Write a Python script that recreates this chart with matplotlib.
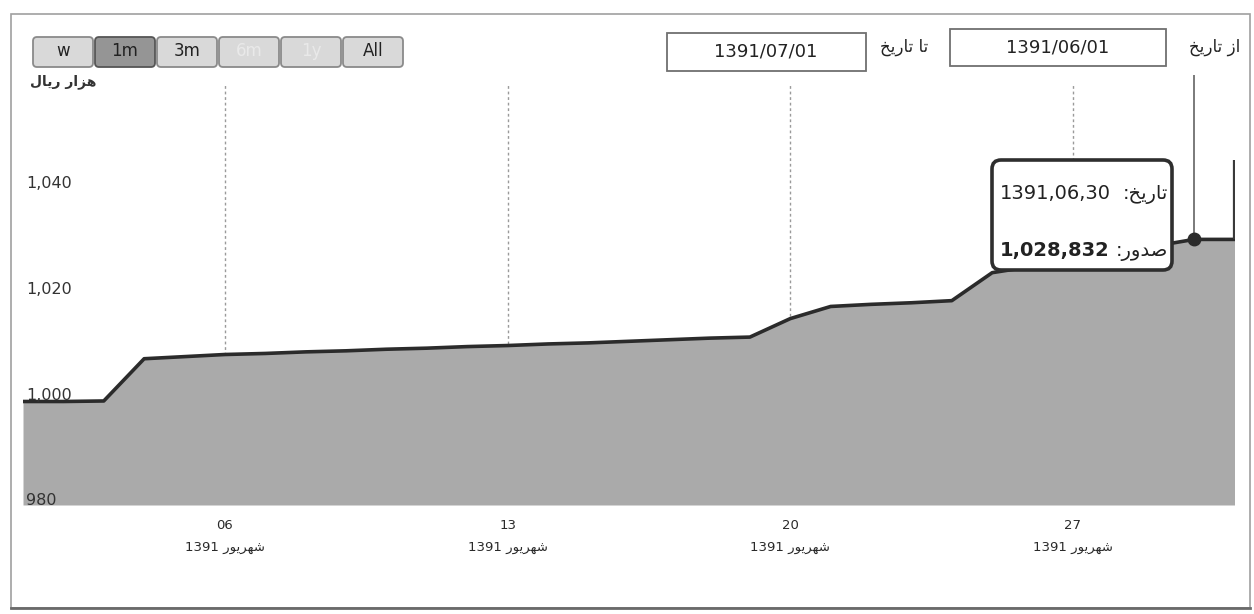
import matplotlib
matplotlib.use("Agg")
import matplotlib.pyplot as plt
from matplotlib.patches import FancyBboxPatch, Rectangle

# ---------------- data ----------------
days = list(range(1, 32))  # Shahrivar 1391, day of month
values = [1000.0, 1000.0, 1000.1, 1008.1, 1008.5, 1008.9, 1009.1, 1009.4, 1009.6, 1009.9,
          1010.1, 1010.4, 1010.6, 1010.9, 1011.1, 1011.4, 1011.7, 1012.0, 1012.2, 1015.7,
          1018.0, 1018.4, 1018.7, 1019.1, 1024.4, 1025.6, 1026.9, 1028.1, 1029.4, 1030.7,
          1030.7]  # thousand rial
x_ticks = [6, 13, 20, 27]
y_ticks = [980, 1000, 1020, 1040]
year_label = "1391"
range_buttons = ["w", "1m", "3m", "6m", "1y", "All"]
from_date = "1391/06/01"
to_date = "1391/07/01"
tooltip_date = "1391,06,30"
tooltip_value = "1,028,832"
tooltip_day = 30

# ------------- Persian shaping (visual order, presentation forms) -------------
FORMS = {
    'ا': ('\uFE8D', '\uFE8E', None, None),
    'ت': ('\uFE95', '\uFE96', '\uFE97', '\uFE98'),
    'خ': ('\uFEA5', '\uFEA6', '\uFEA7', '\uFEA8'),
    'د': ('\uFEA9', '\uFEAA', None, None),
    'ر': ('\uFEAD', '\uFEAE', None, None),
    'ز': ('\uFEAF', '\uFEB0', None, None),
    'ش': ('\uFEB5', '\uFEB6', '\uFEB7', '\uFEB8'),
    'ص': ('\uFEB9', '\uFEBA', '\uFEBB', '\uFEBC'),
    'ل': ('\uFEDD', '\uFEDE', '\uFEDF', '\uFEE0'),
    'ه': ('\uFEE9', '\uFEEA', '\uFEEB', '\uFEEC'),
    'و': ('\uFEED', '\uFEEE', None, None),
    'ی': ('\uFBFC', '\uFBFD', '\uFEF3', '\uFEF4'),
}


def shape(word):
    out = []
    n = len(word)
    for i, c in enumerate(word):
        if c not in FORMS:
            out.append(c)
            continue
        iso, fin, ini, med = FORMS[c]
        prev = word[i - 1] if i > 0 else None
        nxt = word[i + 1] if i < n - 1 else None
        jp = prev in FORMS and FORMS[prev][2] is not None
        jn = nxt in FORMS and ini is not None
        if jp and jn:
            out.append(med)
        elif jp:
            out.append(fin)
        elif jn:
            out.append(ini)
        else:
            out.append(iso)
    return ''.join(out)


def rtl(text):
    return shape(text)[::-1]


unit_label = rtl("هزار ریال")
month_label = year_label + " " + rtl("شهریور")
to_label = rtl("تا تاریخ")
from_label = rtl("از تاریخ")
tt_date_label = rtl("تاریخ:")
tt_value_label = rtl("صدور:")

plt.rcParams['font.family'] = ['DejaVu Sans']

W, H = 1254, 614
fig = plt.figure(figsize=(W / 100, H / 100), dpi=100)
fig.patch.set_facecolor("white")

# plot area in pixels
L, R, T, B = 23, 1234.5, 85, 505
px_per_unit = 5.28
y_at_1000 = 401.5
ymin = 1000 - (B - y_at_1000) / px_per_unit
ymax = 1000 + (y_at_1000 - T) / px_per_unit

ax = fig.add_axes([L / W, 1 - B / H, (R - L) / W, (B - T) / H])
ax.set_xlim(1, 31)
ax.set_ylim(ymin, ymax)
for s in ax.spines.values():
    s.set_visible(False)
ax.set_xticks([])
ax.set_yticks([])
ax.patch.set_alpha(0)

for t in x_ticks:
    ax.axvline(t, color="#9a9a9a", lw=1, ls=(0, (2, 2)), zorder=0.5)

ax.fill_between(days, values, ymin, color="#aaaaaa", lw=0, zorder=1)
ax.plot(days, values, color="#2b2b2b", lw=2.6, zorder=2, solid_joinstyle="round")

# crosshair and hovered point
ti = days.index(tooltip_day)
ax.vlines(days[ti], values[ti], ymax + 10 / px_per_unit, color="#6f6f6f", lw=1.3,
          zorder=3, clip_on=False)
ax.plot([days[ti]], [values[ti]], "o", color="#2b2b2b", ms=9, zorder=4, clip_on=False)
# right edge line
ax.vlines(days[-1], values[-1], values[-1] + 15, color="#3a3a3a", lw=1.6, zorder=3)

ytr = ax.get_yaxis_transform()
for v in y_ticks:
    ax.annotate(f"{v:,}", xy=(0, v), xycoords=ytr, xytext=(3, 2),
                textcoords="offset pixels", ha="left", va="baseline",
                fontsize=11.5, color="#333333", annotation_clip=False)

xtr = ax.get_xaxis_transform()
for d in x_ticks:
    ax.annotate(f"{d:02d}", xy=(d, 0), xycoords=xtr, xytext=(0, -14),
                textcoords="offset pixels", ha="center", va="top",
                fontsize=9.5, color="#2a2a2a", annotation_clip=False)
    ax.annotate(month_label, xy=(d, 0), xycoords=xtr, xytext=(0, -36),
                textcoords="offset pixels", ha="center", va="top",
                fontsize=9.5, color="#2a2a2a", annotation_clip=False)

# ---------------- overlay in pixel coordinates ----------------
ov = fig.add_axes([0, 0, 1, 1], zorder=5)
ov.set_xlim(0, W)
ov.set_ylim(H, 0)
ov.axis("off")
ov.patch.set_alpha(0)

# outer frame
ov.add_patch(Rectangle((11, 14), 1239, 594, fill=False, ec="#a0a0a0", lw=1.2))
ov.plot([11, 1250], [608, 608], color="#6a6a6a", lw=2)

# range selector buttons
for i, lab in enumerate(range_buttons):
    x0 = 32 + i * 62
    pressed = lab == "1m"
    disabled = lab in ("6m", "1y")
    ov.add_patch(FancyBboxPatch((x0 + 1, 37), 60, 30,
                                boxstyle="round,pad=0,rounding_size=4",
                                fc="#959595" if pressed else "#d9d9d9",
                                ec="#555555" if pressed else "#8a8a8a", lw=1.3))
    ov.text(x0 + 31, 51, lab, ha="center", va="center", fontsize=12,
            color="#e9e9e9" if disabled else "#222222")

ov.text(30, 82, unit_label, ha="left", va="center", fontsize=10,
        fontweight="bold", color="#333333")

# date inputs
ov.add_patch(Rectangle((667, 33), 199, 38, fc="white", ec="#707070", lw=1.3))
ov.text(766, 52, to_date, ha="center", va="center", fontsize=13, color="#222222")
ov.text(928, 47, to_label, ha="right", va="center", fontsize=12, color="#222222")
ov.add_patch(Rectangle((950, 29), 216, 37, fc="white", ec="#707070", lw=1.3))
ov.text(1058, 48, from_date, ha="center", va="center", fontsize=13, color="#222222")
ov.text(1240, 47, from_label, ha="right", va="center", fontsize=12, color="#222222")

# tooltip
ov.add_patch(FancyBboxPatch((992, 160), 180, 110,
                            boxstyle="round,pad=0,rounding_size=9",
                            fc="white", ec="#2e2e2e", lw=2.6))
ov.text(1000, 199, tooltip_date, ha="left", va="baseline", fontsize=14, color="#222222")
ov.text(1168, 199, tt_date_label, ha="right", va="baseline", fontsize=14, color="#222222")
ov.text(1000, 256, tooltip_value, ha="left", va="baseline", fontsize=14,
        fontweight="bold", color="#222222")
ov.text(1168, 256, tt_value_label, ha="right", va="baseline", fontsize=14, color="#222222")

fig.savefig("out.png", dpi=100, facecolor="white")
